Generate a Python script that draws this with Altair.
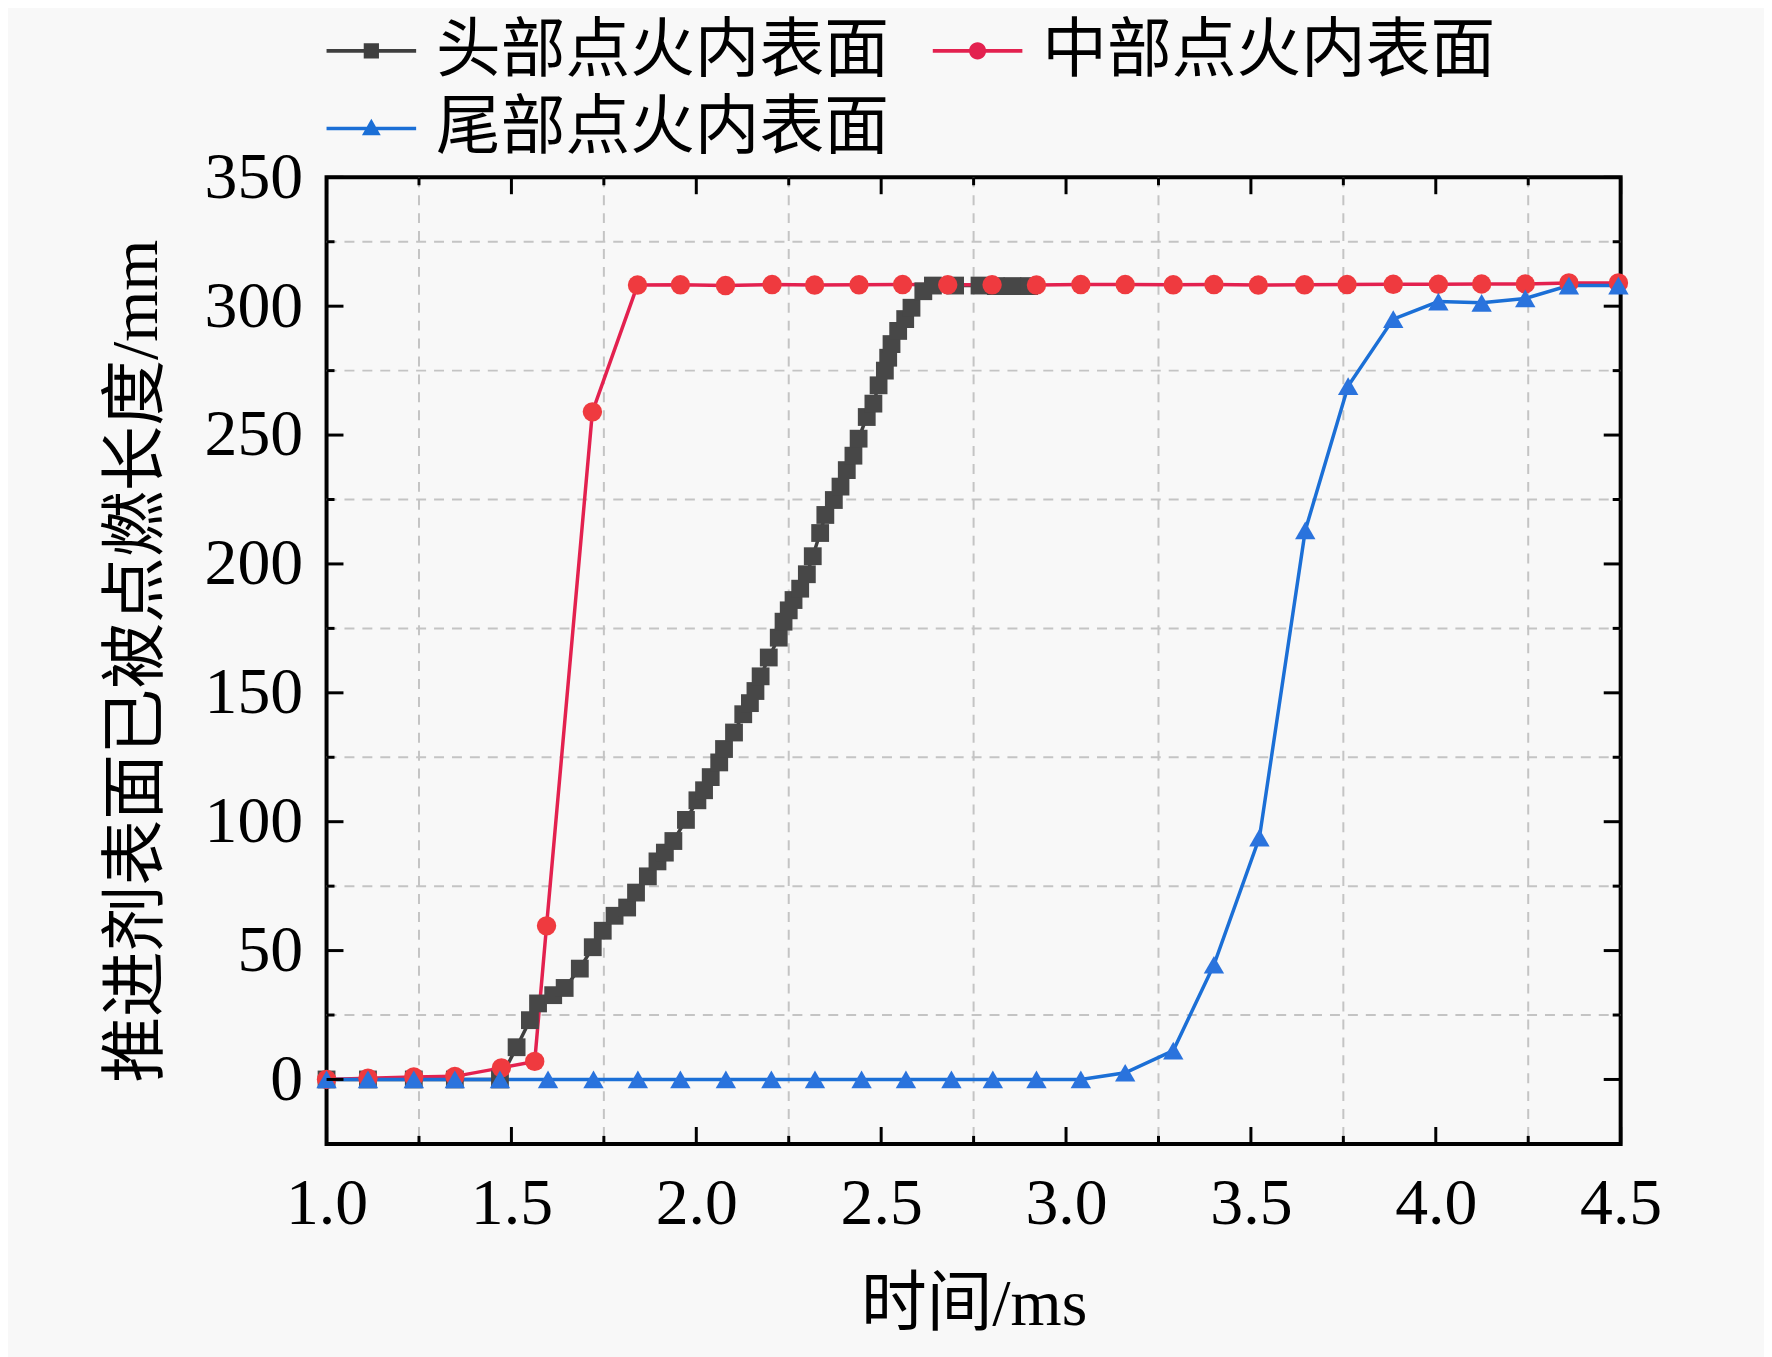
import altair as alt
import pandas as pd

# ---------------- data ----------------
series_names = ["头部点火内表面", "中部点火内表面", "尾部点火内表面"]

head_t = [1.0, 1.112, 1.236, 1.347, 1.469, 1.514, 1.55, 1.572, 1.613, 1.644,
          1.685, 1.72, 1.747, 1.779, 1.813, 1.837, 1.869, 1.895, 1.915, 1.938,
          1.972, 2.003, 2.021, 2.039, 2.062, 2.075, 2.102, 2.127, 2.145, 2.16,
          2.174, 2.196, 2.223, 2.236, 2.25, 2.263, 2.281, 2.299, 2.315, 2.335,
          2.349, 2.372, 2.39, 2.407, 2.425, 2.439, 2.461, 2.479, 2.493, 2.51,
          2.519, 2.528, 2.546, 2.565, 2.582, 2.614, 2.64, 2.70, 2.766, 2.81,
          2.855, 2.9]
head_len = [0, 0, 0, 0, 0, 12.5, 23, 29.5, 32.7, 35.5,
            43, 51.3, 57.7, 63.5, 66.7, 72.5, 78.8, 84.6, 88, 92.5,
            100.7, 108.3, 112.2, 117.3, 123, 128.2, 134.6, 141.7, 146, 150.7,
            156.4, 163.7, 171.4, 177.6, 182, 186, 190.4, 196, 203, 212,
            219, 224.8, 230, 236.4, 242, 248.6, 257, 262.2, 269.3, 275,
            280, 285.3, 290.4, 295, 299.4, 305.8, 308, 308, 308, 307.8,
            307.8, 307.8]

mid_t = [1.0, 1.112, 1.236, 1.347, 1.473, 1.563, 1.595, 1.719, 1.841, 1.957,
         2.079, 2.205, 2.32, 2.44, 2.558, 2.68, 2.80, 2.92, 3.04, 3.16,
         3.29, 3.40, 3.52, 3.645, 3.76, 3.885, 4.007, 4.124, 4.242, 4.36,
         4.494]
mid_len = [0, 0.5, 1, 1.2, 4.5, 7, 59.6, 259, 308.2, 308.3,
           308, 308.4, 308.2, 308.3, 308.4, 308.3, 308.3, 308.2, 308.4, 308.4,
           308.3, 308.4, 308.2, 308.3, 308.4, 308.5, 308.5, 308.6, 308.6, 309,
           309]

tail_t = [1.0, 1.112, 1.236, 1.347, 1.469, 1.599, 1.722, 1.842, 1.957, 2.08,
          2.203, 2.321, 2.447, 2.567, 2.69, 2.802, 2.92, 3.04, 3.16, 3.29,
          3.40, 3.523, 3.647, 3.763, 3.885, 4.007, 4.124, 4.242, 4.36, 4.494]
tail_len = [0, 0, 0, 0, 0, 0, 0, 0, 0, 0,
            0, 0, 0, 0, 0, 0, 0, 0, 2.6, 11.2,
            44.5, 93.8, 213, 269, 295, 301.8, 301.3, 303, 308, 308]

line_colors = ["#3f3f3f", "#e3214f", "#1b6fd6"]
point_colors = ["#474747", "#ef3a3f", "#2a73dd"]
point_shapes = ["square", "circle", "triangle-up"]
point_sizes = [320, 380, 420]

x_major = [1.0, 1.5, 2.0, 2.5, 3.0, 3.5, 4.0, 4.5]
x_minor = [1.25, 1.75, 2.25, 2.75, 3.25, 3.75, 4.25]
y_major = [0, 50, 100, 150, 200, 250, 300, 350]
y_minor = [25, 75, 125, 175, 225, 275, 325]

# legend symbols: line + marker as custom paths
legend_line = "M-1,-0.04L1,-0.04L1,0.04L-1,0.04Z"
legend_paths = [
    legend_line + "M-0.17,-0.17L0.17,-0.17L0.17,0.17L-0.17,0.17Z",
    legend_line + "M0.19,0A0.19,0.19,0,1,1,-0.19,0A0.19,0.19,0,1,1,0.19,0Z",
    legend_line + "M0,-0.22L0.21,0.15L-0.21,0.15Z",
]

# ---------------- table ----------------
rows = []
for i, (ts, ls) in enumerate([(head_t, head_len), (mid_t, mid_len), (tail_t, tail_len)]):
    for t, v in zip(ts, ls):
        rows.append({"t": t, "len": v, "series": series_names[i], "order": i,
                     "lc": line_colors[i], "pc": point_colors[i],
                     "shp": point_shapes[i], "ps": point_sizes[i]})
df = pd.DataFrame(rows)

W, H = 1300, 971
SERIF = "Liberation Serif"
TITLE_FONT = "Liberation Serif, Noto Sans CJK SC"

x_scale = alt.Scale(domain=[1.0, 4.5], nice=False, zero=False)
y_scale = alt.Scale(domain=[-25, 350], nice=False, zero=False)

x_enc = alt.X("t:Q", scale=x_scale,
              axis=alt.Axis(values=x_major, format=".1f", title="时间/ms",
                            ticks=False, tickSize=0, domain=False, grid=False,
                            labelFlush=False, labelOverlap=False,
                            labelPadding=28, titlePadding=36))
y_enc = alt.Y("len:Q", scale=y_scale,
              axis=alt.Axis(values=y_major, format="d", title="推进剂表面已被点燃长度/mm",
                            ticks=False, tickSize=0, domain=False, grid=False,
                            labelFlush=False, labelOverlap=False,
                            labelPadding=24, titlePadding=34))

base = alt.Chart(df)

grid_x = alt.Chart(pd.DataFrame({"v": x_minor})).mark_rule(
    color="#c4c4c4", strokeWidth=2, strokeDash=[10, 8]
).encode(x=alt.X("v:Q", scale=x_scale), y=alt.value(0), y2=alt.value(H))

grid_y = alt.Chart(pd.DataFrame({"v": y_minor})).mark_rule(
    color="#c4c4c4", strokeWidth=2, strokeDash=[10, 8]
).encode(y=alt.Y("v:Q", scale=y_scale), x=alt.value(0), x2=alt.value(W))

lines = base.mark_line(strokeWidth=3.5).encode(
    x=x_enc, y=y_enc, detail="series:N",
    color=alt.Color("lc:N", scale=None),
    order="t:Q",
)

points = base.mark_point(filled=True, opacity=1).encode(
    x="t:Q", y="len:Q",
    color=alt.Color("pc:N", scale=None),
    shape=alt.Shape("shp:N", scale=None),
    size=alt.Size("ps:Q", scale=None),
    order="order:Q",
)


def x_ticks(vals, length):
    d = pd.DataFrame({"v": vals})
    bottom = alt.Chart(d).mark_rule(color="black", strokeWidth=3).encode(
        x=alt.X("v:Q", scale=x_scale), y=alt.value(H), y2=alt.value(H - length))
    top = alt.Chart(d).mark_rule(color="black", strokeWidth=3).encode(
        x=alt.X("v:Q", scale=x_scale), y=alt.value(0), y2=alt.value(length))
    return [bottom, top]


def y_ticks(vals, length):
    d = pd.DataFrame({"v": vals})
    left = alt.Chart(d).mark_rule(color="black", strokeWidth=3).encode(
        y=alt.Y("v:Q", scale=y_scale), x=alt.value(0), x2=alt.value(length))
    right = alt.Chart(d).mark_rule(color="black", strokeWidth=3).encode(
        y=alt.Y("v:Q", scale=y_scale), x=alt.value(W), x2=alt.value(W - length))
    return [left, right]


ticks = x_ticks(x_major, 17) + x_ticks(x_minor, 8) + y_ticks(y_major, 17) + y_ticks(y_minor, 8)

legend_def = alt.Legend(
    title=None, orient="none", legendX=0, legendY=-172, columns=2,
    direction="horizontal",
    columnPadding=43, rowPadding=-11, padding=0,
    symbolSize=8100, symbolStrokeWidth=0, symbolOffset=0,
    labelFont="Noto Sans CJK SC", labelFontSize=65, labelColor="black",
    labelOffset=20, labelLimit=1000,
)

legend_layer = base.transform_filter("datum.t < -100").mark_point(filled=True, opacity=1).encode(
    x="t:Q", y="len:Q",
    color=alt.Color("series:N",
                    scale=alt.Scale(domain=series_names, range=line_colors),
                    legend=legend_def),
    shape=alt.Shape("series:N",
                    scale=alt.Scale(domain=series_names, range=legend_paths),
                    legend=legend_def),
)

chart = alt.layer(grid_x, grid_y, lines, points, *ticks, legend_layer).properties(
    width=W, height=H,
    autosize=alt.AutoSizeParams(type="none"),
    padding={"left": 320, "top": 167, "right": 144, "bottom": 211},
    background="#f8f8f8",
).configure_view(
    stroke="black", strokeWidth=4
).configure_axis(
    labelFont=SERIF, labelFontSize=66, labelColor="black",
    titleFont=TITLE_FONT, titleFontSize=66, titleColor="black", titleFontWeight="normal",
)

chart.save("out.html", embed_options={"renderer": "svg", "actions": False})
